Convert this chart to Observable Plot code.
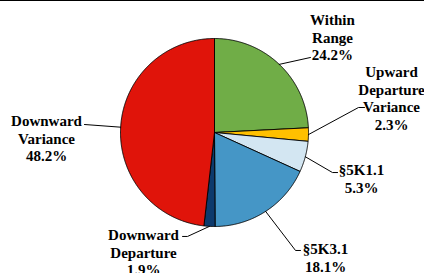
<!DOCTYPE html>
<html>
<head>
<meta charset="utf-8">
<script src="https://cdn.jsdelivr.net/npm/d3@7"></script>
<script src="https://cdn.jsdelivr.net/npm/@observablehq/plot@0.6"></script>
<style>
  html, body { margin: 0; padding: 0; background: #fff; }
  #wrap { position: relative; width: 424px; height: 273px; overflow: hidden; }
  #topline { position: absolute; left: 0; top: 0; width: 424px; height: 1px; background: #000; }
  svg { display: block; }
</style>
</head>
<body>
<div id="wrap"><div id="chart"></div><div id="topline"></div></div>
<script>
// ---- data ----
const categories = ["Within\nRange", "Upward\nDeparture\nVariance", "§5K1.1", "§5K3.1", "Downward\nDeparture", "Downward\nVariance"];
const shares = [24.2, 2.3, 5.3, 18.1, 1.9, 48.2];
const colors = ["#70AD47", "#FFC000", "#D3E6F2", "#4596C6", "#0D3A6C", "#E0140A"];

// ---- label layout (in pie-radius units; y up) ----
const labelText = [[1.255, 1.273], [1.883, 0.720], [1.564, -0.323], [1.181, -1.163], [-0.755, -1.014], [-1.787, 0.198]];
const labelElbow = [null, [1.532, 0.266], [1.255, -0.426], [0.862, -1.255], [-0.287, -1.106], null];
const labelEnd = [[1.021, 0.798], [1.596, 0.266], [1.309, -0.426], [0.915, -1.255], [-0.340, -1.106], [-1.383, 0.085]];

const total = d3.sum(shares);
const fmt = d3.format(".1f");
let acc = 0;
const slices = shares.map((v, i) => {
  const a0 = acc / total * 2 * Math.PI;
  acc += v;
  const a1 = acc / total * 2 * Math.PI;
  return {i, a0, a1, mid: (a0 + a1) / 2};
});

// slice polygons: centre -> arc -> centre (angle clockwise from 12 o'clock)
const slicePolys = slices.map(s => {
  const pts = [{x: 0, y: 0}];
  const n = Math.max(2, Math.ceil((s.a1 - s.a0) / (Math.PI / 360)));
  for (let j = 0; j <= n; j++) {
    const a = s.a0 + (s.a1 - s.a0) * j / n;
    pts.push({x: Math.sin(a), y: Math.cos(a)});
  }
  pts.push({x: 0, y: 0});
  return pts;
});

const leaders = [];
slices.forEach(s => {
  leaders.push({k: s.i, x: Math.sin(s.mid), y: Math.cos(s.mid)});
  if (labelElbow[s.i]) leaders.push({k: s.i, x: labelElbow[s.i][0], y: labelElbow[s.i][1]});
  leaders.push({k: s.i, x: labelEnd[s.i][0], y: labelEnd[s.i][1]});
});

const labels = categories.map((c, i) => ({
  x: labelText[i][0], y: labelText[i][1], text: `${c}\n${fmt(shares[i])}%`
}));

const plot = Plot.plot({
  width: 424,
  height: 273,
  margin: 0,
  x: {domain: [-1, 1], range: [120, 308], axis: null},
  y: {domain: [-1, 1], range: [226, 38], axis: null},
  marks: [
    ...slicePolys.map((pts, i) => Plot.line(pts, {
      x: "x", y: "y", fill: colors[i], stroke: "#000", strokeWidth: 0.9, strokeLinejoin: "miter"
    })),
    Plot.line(leaders, {x: "x", y: "y", z: "k", stroke: "#000", strokeWidth: 1}),
    Plot.text(labels, {
      x: "x", y: "y", text: "text",
      textAnchor: "middle", lineAnchor: "top", lineHeight: 1.17,
      fontSize: 15, fontWeight: "bold", fontFamily: "Liberation Serif", fill: "#000"
    })
  ]
});
document.getElementById("chart").appendChild(plot);
</script>
</body>
</html>
